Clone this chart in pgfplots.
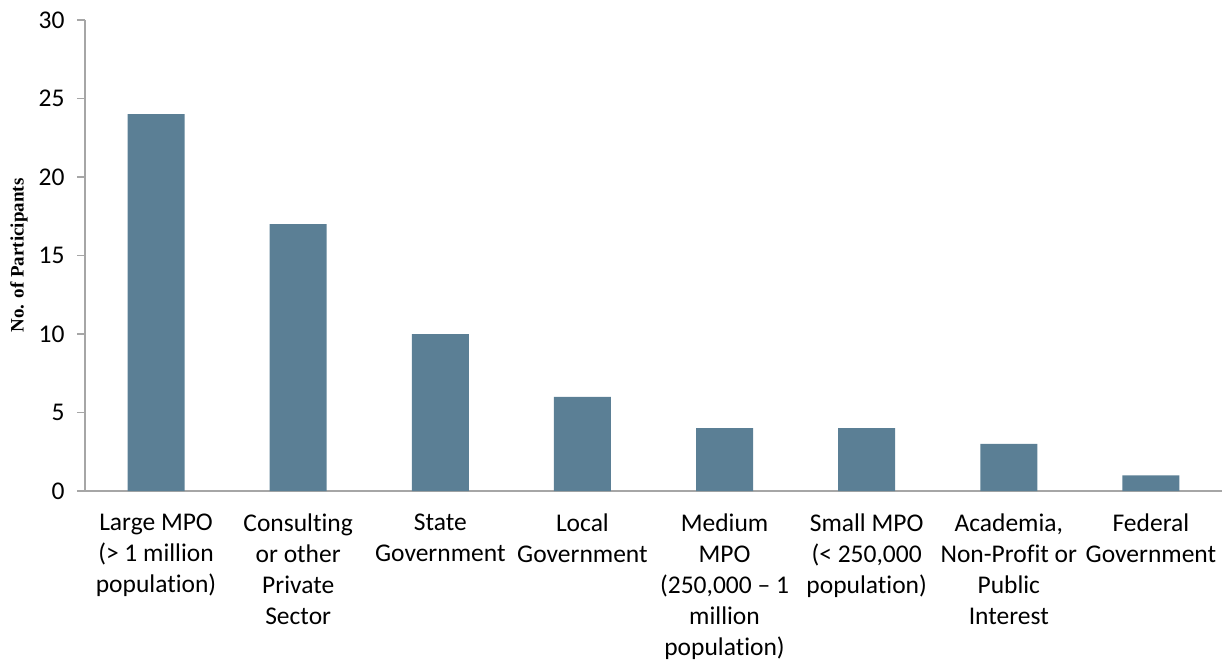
\documentclass[border=0pt]{standalone}
\usepackage{pgfplots}
\pgfplotsset{compat=1.18}
\usepackage{fontspec}
\setmainfont{Carlito}[Ligatures={NoCommon}]
\newfontfamily\tnr{Liberation Serif}
\definecolor{barc}{HTML}{5B7F95}
\definecolor{axc}{HTML}{A6A6A6}
\begin{document}
\begin{tikzpicture}
\useasboundingbox (-85bp,-173bp) rectangle (1143bp,491bp);
\begin{axis}[
  at={(0,0)}, anchor=south west,
  scale only axis, width=1137bp, height=471bp,
  xmin=-0.5, xmax=7.5, ymin=0, ymax=30,
  axis x line=bottom, axis y line=left,
  axis line style={axc, line width=1.2bp, -},
  ytick={0,5,...,30},
  xtick=data,
  xticklabels={{Large MPO\\(> 1 million\\population)},
    {Consulting\\or other\\Private\\Sector},
    {State\\Government},
    {Local\\Government},
    {Medium\\MPO\\(250,000 – 1\\million\\population)},
    {Small MPO\\(< 250,000\\population)},
    {Academia,\\Non-Profit or\\Public\\Interest},
    {Federal\\Government}},
  xtick style={draw=none},
  ytick style={axc, line width=1.2bp},
  tick align=outside, major tick length=8bp,
  /pgf/number format/assume math mode=true,
  ticklabel style={font=\fontsize{25.5bp}{31bp}\selectfont, text=black},
  xticklabel style={align=center, yshift=-11bp},
  yticklabel style={xshift=-9bp},
  ylabel={No. of Participants},
  ylabel style={font=\tnr\bfseries\fontsize{19bp}{22bp}\selectfont, at={(axis description cs:-0.058,0.5)}, anchor=center},
]
\addplot[ybar, bar width=57bp, fill=barc, draw=none] coordinates {
  (0,24) (1,17) (2,10) (3,6) (4,4) (5,4) (6,3) (7,1)
};
\end{axis}
\end{tikzpicture}
\end{document}
